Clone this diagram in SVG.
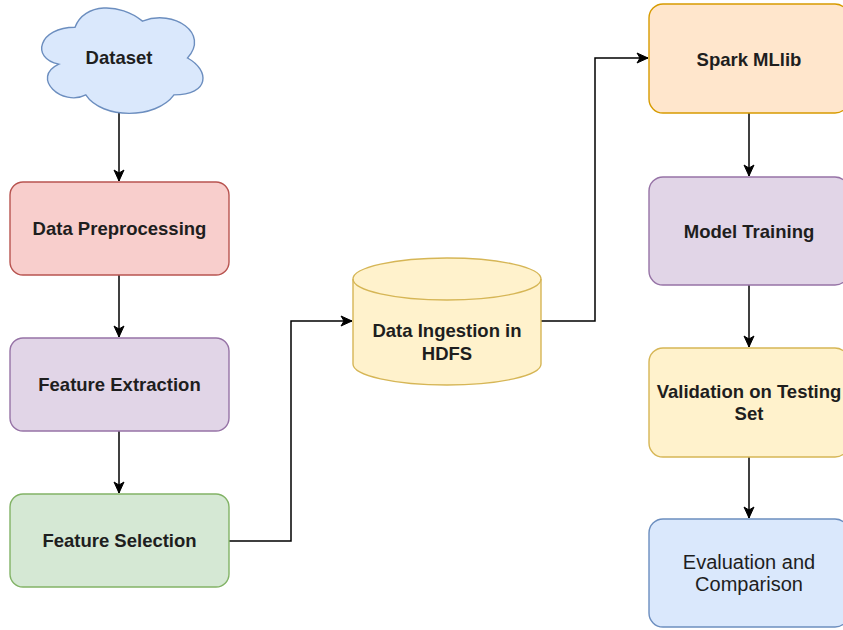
<svg xmlns="http://www.w3.org/2000/svg" width="843" height="630" viewBox="0 0 843 630">
<style>
.lbl{font-family:"Liberation Sans",Arial,sans-serif;font-size:18.5px;font-weight:bold;fill:#1e1e1e;text-anchor:middle;dominant-baseline:central}
.reg{font-weight:normal;font-size:20px}
.box{stroke-width:1.4}
.con{fill:none;stroke:#000;stroke-width:1.5;marker-end:url(#arr)}
</style>
<defs>
<marker id="arr" markerUnits="userSpaceOnUse" markerWidth="14" markerHeight="12" viewBox="0 0 14 12" refX="12" refY="6" orient="auto">
<path d="M1,1 L12,6 L1,11 L4,6 Z" fill="#000" stroke="#000" stroke-width="1"/>
</marker>
</defs>
<rect width="843" height="630" fill="#fff"/>
<g id="connectors">
<path class="con" d="M119,113 L119,181"/>
<path class="con" d="M119,275 L119,337"/>
<path class="con" d="M119,431 L119,493"/>
<path class="con" d="M229,541 L291,541 L291,321 L352,321"/>
<path class="con" d="M541,321 L595,321 L595,58 L648,58"/>
<path class="con" d="M749,113 L749,176"/>
<path class="con" d="M749,285 L749,347"/>
<path class="con" d="M749,457 L749,518"/>
</g>
<g id="dataset">
<path class="box" fill="#dae8fc" stroke="#6c8ebf" d="M75,27.25 C39,27.25 30,58 58.8,64.15 C30,77.7 62.4,107.2 85.8,94.9 C102,119.5 156,119.5 174,94.9 C210,94.9 210,70.3 187.5,58 C210,33.4 174,8.8 142.5,21.1 C120,2.65 84,2.65 75,27.25 Z"/>
<text class="lbl" x="119" y="57">Dataset</text>
</g>
<g id="preprocessing">
<rect class="box" x="10" y="182" width="219" height="93" rx="13" fill="#f8cecc" stroke="#b85450"/>
<text class="lbl" x="119.5" y="228.5">Data Preprocessing</text>
</g>
<g id="extraction">
<rect class="box" x="10" y="338" width="219" height="93" rx="13" fill="#e1d5e7" stroke="#9673a6"/>
<text class="lbl" x="119.5" y="384.5">Feature Extraction</text>
</g>
<g id="selection">
<rect class="box" x="10" y="494" width="219" height="93" rx="13" fill="#d5e8d4" stroke="#82b366"/>
<text class="lbl" x="119.5" y="540.5">Feature Selection</text>
</g>
<g id="hdfs">
<path class="box" fill="#fff2cc" stroke="#d6b656" d="M353,279 A94,21 0 0 1 541,279 L541,364 A94,21 0 0 1 353,364 Z"/>
<path class="box" fill="none" stroke="#d6b656" d="M353,279 A94,21 0 0 0 541,279"/>
<text class="lbl" x="447" y="330">Data Ingestion in</text>
<text class="lbl" x="447" y="353">HDFS</text>
</g>
<g id="spark">
<rect class="box" x="649" y="4" width="200" height="109" rx="14" fill="#ffe6cc" stroke="#d79b00"/>
<text class="lbl" x="749" y="59">Spark MLlib</text>
</g>
<g id="training">
<rect class="box" x="649" y="177" width="200" height="108" rx="14" fill="#e1d5e7" stroke="#9673a6"/>
<text class="lbl" x="749" y="231">Model Training</text>
</g>
<g id="validation">
<rect class="box" x="649" y="348" width="200" height="109" rx="14" fill="#fff2cc" stroke="#d6b656"/>
<text class="lbl" x="749" y="391">Validation on Testing</text>
<text class="lbl" x="749" y="413">Set</text>
</g>
<g id="evaluation">
<rect class="box" x="649" y="519" width="200" height="108" rx="14" fill="#dae8fc" stroke="#6c8ebf"/>
<text class="lbl reg" x="749" y="562">Evaluation and</text>
<text class="lbl reg" x="749" y="584">Comparison</text>
</g>
</svg>
